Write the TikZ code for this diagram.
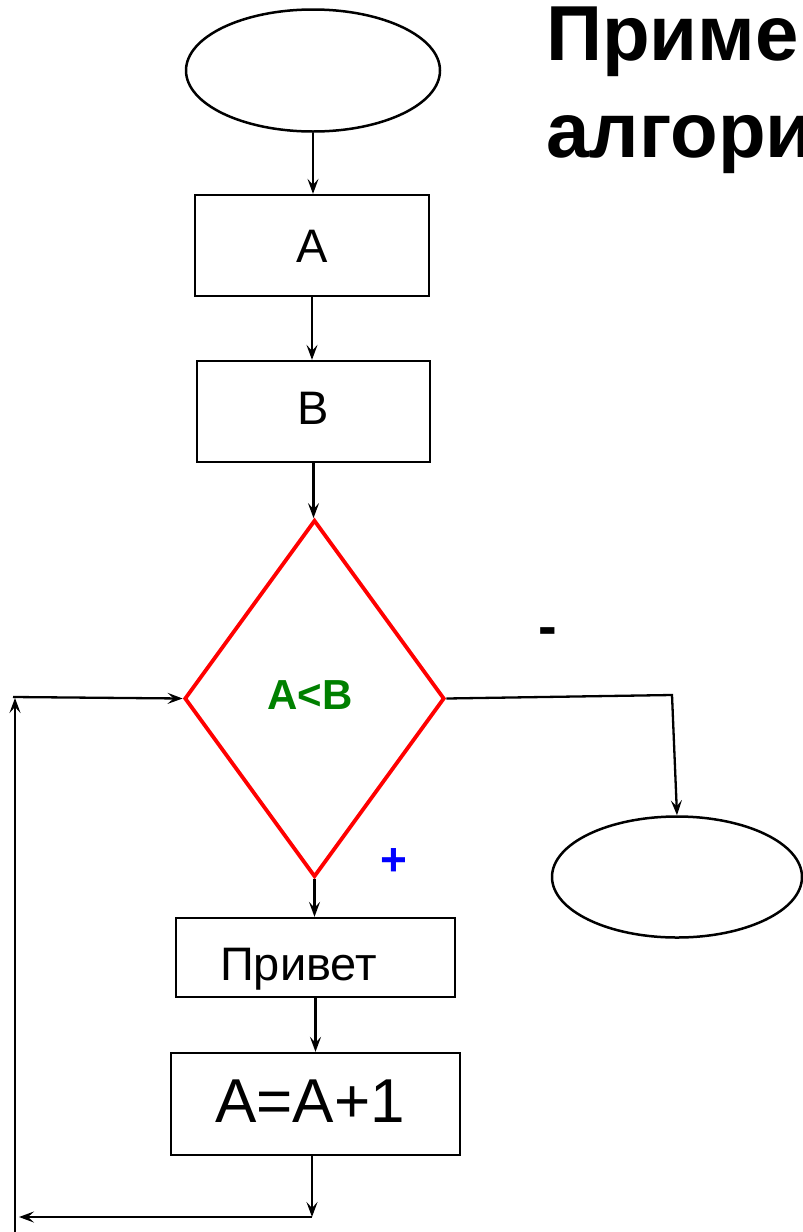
\documentclass[tikz,border=0pt]{standalone}
\usepackage{fontspec}
\setmainfont{Liberation Sans}
\usetikzlibrary{shapes.geometric,arrows.meta}
\definecolor{dred}{RGB}{255,0,0}
\definecolor{dgreen}{RGB}{0,128,0}
\definecolor{dblue}{RGB}{0,0,255}
\begin{document}
\begin{tikzpicture}[x=1pt,y=-1pt,
  line width=2.3pt,
  arr/.style={-{Stealth[length=15pt,width=11pt,inset=6pt]}},
  blk/.style={draw, rectangle, inner sep=0pt, text depth=0pt},
  oval/.style={draw, ellipse, inner sep=0pt, line width=2.5pt},
  title/.style={anchor=base west, inner sep=0pt, font=\bfseries\fontsize{78}{90}\selectfont},
]
\fill[white] (0,0) rectangle (803,1232);
\useasboundingbox (0,0) rectangle (803,1232);
\clip (0,0) rectangle (803,1232);

% title
\node[title] (t1) at (545,60) {Приме};
\node[title] (t2) at (545,157) {алгори};

% nodes
\node[oval, minimum width=254pt, minimum height=122pt] (start) at (313,70.5) {};
\node[blk, minimum width=234pt, minimum height=101pt, text height=33pt,
      font=\fontsize{47}{56}\selectfont] (a) at (312,245.5) {A};
\node[blk, minimum width=233pt, minimum height=101pt, text height=25pt,
      font=\fontsize{47}{56}\selectfont] (b) at (313.5,411.5) {B};
\node[draw=dred, diamond, line width=3.8pt, minimum width=260pt, minimum height=357pt,
      inner sep=0pt, text height=21pt, text depth=0pt, text=dgreen,
      font=\bfseries\fontsize{42}{50}\selectfont] (dia) at (314.5,698.5) {A<B\hspace*{9pt}};
\node[blk, minimum width=279pt, minimum height=79pt, text height=45pt,
      font=\fontsize{47}{56}\selectfont] (p) at (315.5,957.5) {Привет\hspace*{34pt}};
\node[blk, minimum width=289pt, minimum height=102pt, text height=36pt,
      font=\fontsize{62}{72}\selectfont] (inc) at (315.5,1104) {A=A+1\hspace*{11pt}};
\node[oval, minimum width=250pt, minimum height=121pt] (end) at (677,877) {};

% labels
\node[anchor=base, inner sep=0pt, font=\bfseries\fontsize{56}{60}\selectfont] (minus) at (548,645.5) {-};
\node[anchor=base, inner sep=0pt, text=dblue, font=\bfseries\fontsize{46}{50}\selectfont] (plus) at (394,875.5) {+};

% helper coordinates
\coordinate (r1) at (672,695);
\coordinate (j) at (312,1217);
\coordinate (l1) at (19,1217);
\coordinate (v0) at (15,1240);
\coordinate (v1) at (15,698);
\coordinate (h0) at (13,697);

% connectors
\draw[arr] (start.south) -- (start.south |- a.north);
\draw[arr] (a.south) -- (a.south |- b.north);
\draw[arr] (b.south) -- (b.south |- dia.north);
\draw[arr] (dia.south) -- (dia.south |- p.north);
\draw[arr] (p.south) -- (p.south |- inc.north);
\draw[arr] (j |- inc.south) -- (j);
\draw[arr] (j) -- (l1);
\draw[arr] (v0) -- (v1);
\draw[arr] (h0) -- (dia.west);
\draw[arr] (dia.east) -- (r1) -- (end.north);
\end{tikzpicture}
\end{document}
